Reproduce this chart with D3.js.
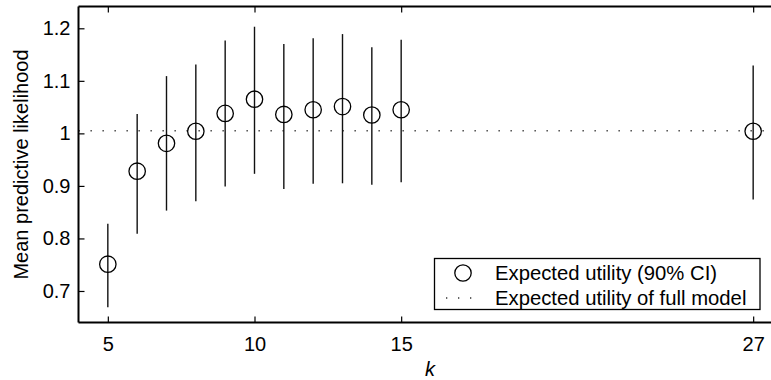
<!DOCTYPE html>
<html><head><meta charset="utf-8">
<script src="https://cdn.jsdelivr.net/npm/d3@7"></script>
<style>
body{margin:0;background:#fff;}
text{font-family:"Liberation Sans",Arial,Helvetica,sans-serif;fill:#000;}
</style></head>
<body><svg id="c" width="771" height="380"></svg>
<script>
const kValues = [5,6,7,8,9,10,11,12,13,14,15,27];
const meanValues = [0.751,0.928,0.981,1.004,1.038,1.065,1.036,1.045,1.051,1.035,1.045,1.004];
const upperValues = [0.828,1.037,1.109,1.131,1.177,1.203,1.170,1.181,1.189,1.164,1.178,1.129];
const lowerValues = [0.669,0.809,0.853,0.871,0.899,0.923,0.894,0.904,0.905,0.902,0.907,0.874];
const fullModelValue = 1.005;
const xTicks = [5,10,15,27];
const yTicks = [0.7,0.8,0.9,1.0,1.1,1.2];
const yTickLabels = ["0.7","0.8","0.9","1","1.1","1.2"];
const legendLabels = ["Expected utility (90% CI)","Expected utility of full model"];

const svg = d3.select("#c");
const x = d3.scaleLinear().domain([4,28]).range([78.5,782.5]);
const y = d3.scaleLinear().domain([0.64,1.2415]).range([322.5,6.5]);
const fs = 20;

// full model dotted line
svg.append("line").attr("x1",x(4)).attr("x2",x(28)).attr("y1",y(fullModelValue)).attr("y2",y(fullModelValue))
  .attr("stroke","#333").attr("stroke-width",1.3).attr("stroke-dasharray","1.3,10.7");

// error bars
const data = kValues.map((k,i)=>({k,m:meanValues[i],lo:lowerValues[i],hi:upperValues[i]}));
svg.selectAll(".eb").data(data).enter().append("line")
  .attr("x1",d=>x(d.k)).attr("x2",d=>x(d.k)).attr("y1",d=>y(d.lo)).attr("y2",d=>y(d.hi))
  .attr("stroke","#111").attr("stroke-width",1.4);
svg.selectAll(".pt").data(data).enter().append("circle")
  .attr("cx",d=>x(d.k)).attr("cy",d=>y(d.m)).attr("r",8.2)
  .attr("fill","none").attr("stroke","#000").attr("stroke-width",1.3);

// axes
const xb = d3.axisBottom(x).tickValues(xTicks).tickSize(-6).tickPadding(14).tickFormat(d3.format("d"));
const xt = d3.axisTop(x).tickValues(xTicks).tickSize(-6).tickFormat("");
const yl = d3.axisLeft(y).tickValues(yTicks).tickSize(-6).tickPadding(8).tickFormat((d,i)=>yTickLabels[i]);
function style(g){
  g.select(".domain").attr("stroke","#000").attr("stroke-width",2);
  g.selectAll(".tick line").attr("stroke","#000").attr("stroke-width",1.2);
  g.selectAll("text").attr("font-size",fs).attr("font-family","Liberation Sans, Arial, sans-serif").attr("fill","#000");
}
svg.append("g").attr("transform",`translate(0,${y(0.64)})`).call(xb).call(style)
  .call(g=>g.select(".domain").attr("d",`M${x(4)},0H${x(28)}`));
svg.append("g").attr("transform",`translate(0,${y(1.2415)})`).call(xt).call(style)
  .call(g=>g.select(".domain").attr("d",`M${x(4)},0H${x(28)}`));
svg.append("g").attr("transform",`translate(${x(4)},0)`).call(yl).call(style)
  .call(g=>g.select(".domain").attr("d",`M0,${y(0.64)}V${y(1.2415)}`));

// labels
svg.append("text").attr("x",430).attr("y",376).attr("text-anchor","middle")
  .attr("font-size",fs).attr("font-style","italic").text("k");
svg.append("text").attr("transform",`translate(28,${(y(0.64)+y(1.2415))/2}) rotate(-90)`)
  .attr("text-anchor","middle").attr("font-size",fs).text("Mean predictive likelihood");

// legend
const lg = svg.append("g");
lg.append("rect").attr("x",434.5).attr("y",258.5).attr("width",325.5).attr("height",51)
  .attr("fill","#fff").attr("stroke","#000").attr("stroke-width",1.3);
lg.append("circle").attr("cx",463).attr("cy",273).attr("r",8.2).attr("fill","none").attr("stroke","#000").attr("stroke-width",1.3);
lg.append("line").attr("x1",446).attr("x2",474).attr("y1",298).attr("y2",298)
  .attr("stroke","#333").attr("stroke-width",1.3).attr("stroke-dasharray","1.3,10.7");
lg.selectAll(".lt").data(legendLabels).enter().append("text")
  .attr("x",495).attr("y",(d,i)=>279.5+i*25).attr("font-size",20.3).text(d=>d);
</script></body></html>
